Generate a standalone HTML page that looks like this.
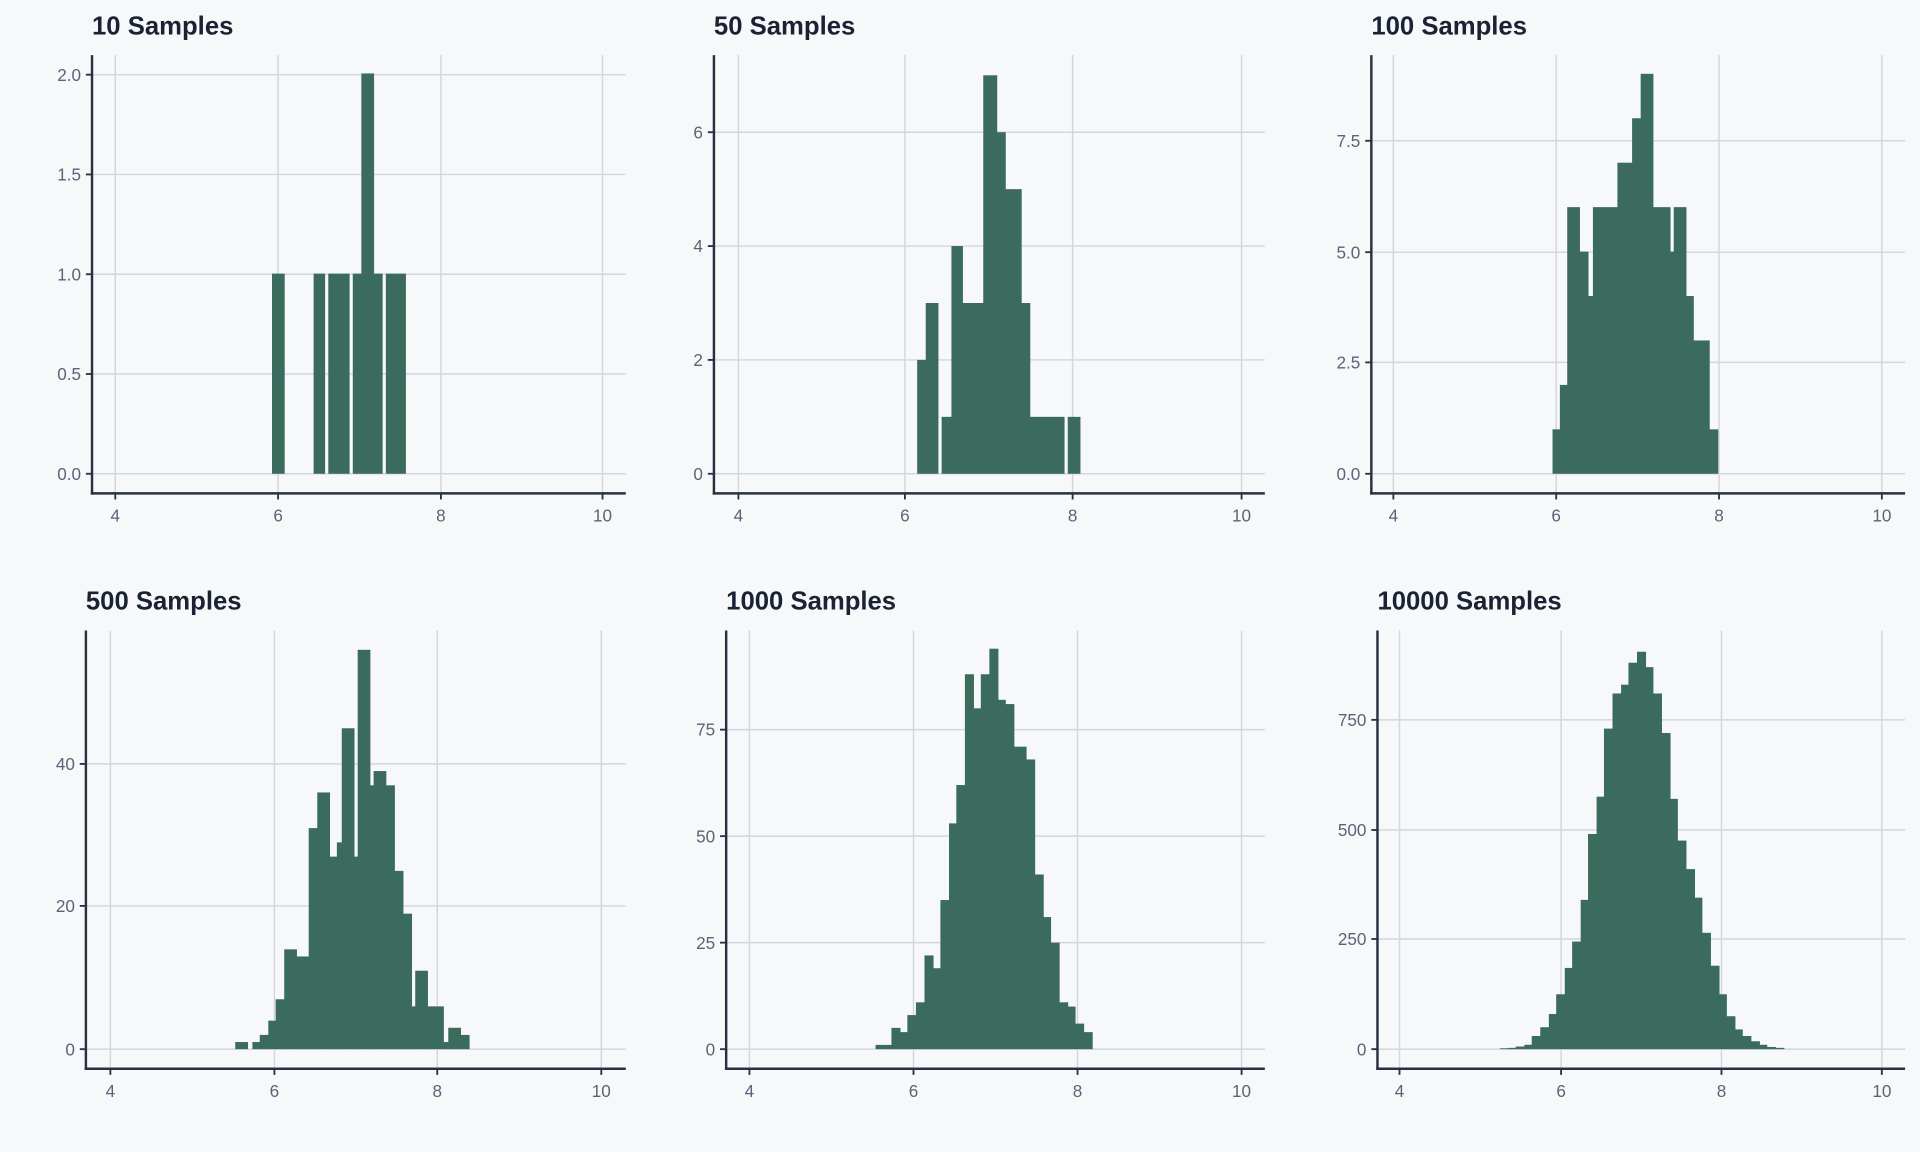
<!DOCTYPE html>
<html><head><meta charset="utf-8"><style>
html,body{margin:0;padding:0;background:#f7f8fa;}
svg{display:block}
text{font-family:"Liberation Sans",sans-serif}
</style></head><body>
<svg id="s" width="1920" height="1152" viewBox="0 0 1568 941" xmlns="http://www.w3.org/2000/svg"></svg>
<script>
const NS="http://www.w3.org/2000/svg";const s=document.getElementById('s');
function el(t,a,txt){const e=document.createElementNS(NS,t);for(const k in a)e.setAttribute(k,a[k]);if(txt!==undefined)e.textContent=txt;s.appendChild(e);return e;}
el('rect',{x:0,y:0,width:1568,height:941,fill:'#f7f8fa'});
const P=[
{t:'10 Samples',L:75,R:511,T:45,B:403,xt:[[94,'4'],[227,'6'],[360,'8'],[492,'10']],yt:[[387,'0.0'],[305.5,'0.5'],[224,'1.0'],[142.5,'1.5'],[61,'2.0']],base:387,u:163.5,
bars:[[222,232,1],[256,265,1],[268,285,1],[288,295,1],[295,305,2],[305,312,1],[315,331,1]]},
{t:'50 Samples',L:583,R:1033,T:45,B:403,xt:[[603,'4'],[739,'6'],[876,'8'],[1014,'10']],yt:[[387,'0'],[294,'2'],[201,'4'],[108,'6']],base:387,u:46.5,
bars:[[749,756,2],[756,766,3],[769,777,1],[777,786,4],[786,803,3],[803,814,7],[814,821,6],[821,834,5],[834,841,3],[841,869,1],[872,882,1]]},
{t:'100 Samples',L:1120,R:1556,T:45,B:403,xt:[[1138,'4'],[1271,'6'],[1404,'8'],[1537,'10']],yt:[[387,'0.0'],[296,'2.5'],[206,'5.0'],[115,'7.5']],base:387,u:36.3,
bars:[[1268,1274,1],[1274,1280,2],[1280,1290,6],[1290,1297,5],[1297,1301,4],[1301,1321,6],[1321,1333,7],[1333,1340,8],[1340,1350,9],[1350,1364,6],[1364,1367,5],[1367,1377,6],[1377,1383,4],[1383,1396,3],[1396,1403,1]]},
{t:'500 Samples',L:70,R:511,T:515,B:873,xt:[[90,'4'],[224,'6'],[357,'8'],[491,'10']],yt:[[857,'0'],[740,'20'],[624,'40']],base:857,u:5.825,
bars:[[192,202,1],[206,212,1],[212,219,2],[219,225,4],[225,232,7],[232,242,14],[242,252,13],[252,259,31],[259,269,36],[269,275,27],[275,279,29],[279,289,45],[289,292,27],[292,302,56],[302,305,37],[305,315,39],[315,322,37],[322,329,25],[329,336,19],[336,339,6],[339,349,11],[349,362,6],[362,366,1],[366,376,3],[376,383,2]]},
{t:'1000 Samples',L:593,R:1033,T:515,B:873,xt:[[612,'4'],[746,'6'],[880,'8'],[1014,'10']],yt:[[857,'0'],[770,'25'],[683,'50'],[596,'75']],base:857,u:3.48,
bars:[[715,728,1],[728,735,5],[735,741,4],[741,748,8],[748,755,11],[755,762,22],[762,768,19],[768,775,35],[775,781,53],[781,788,62],[788,795,88],[795,801,80],[801,808,88],[808,815,94],[815,821,82],[821,828,81],[828,832,71],[832,838,71],[838,845,68],[845,852,41],[852,858,31],[858,865,25],[865,872,11],[872,878,10],[878,885,6],[885,892,4]]},
{t:'10000 Samples',L:1125,R:1556,T:515,B:873,xt:[[1143,'4'],[1275,'6'],[1406,'8'],[1537,'10']],yt:[[857,'0'],[767,'250'],[678,'500'],[588,'750']],base:857,u:0.3587,
bars:[[1225,1232,2],[1232,1238,3],[1238,1245,6],[1245,1251,10],[1251,1258,30],[1258,1265,50],[1265,1271,80],[1271,1278,125],[1278,1284,185],[1284,1291,245],[1291,1297,340],[1297,1304,490],[1304,1310,575],[1310,1317,730],[1317,1324,810],[1324,1330,830],[1330,1337,880],[1337,1344,905],[1344,1350,870],[1350,1357,810],[1357,1364,720],[1364,1370,570],[1370,1377,475],[1377,1384,410],[1384,1390,345],[1390,1397,265],[1397,1404,190],[1404,1410,125],[1410,1417,75],[1417,1423,45],[1423,1430,30],[1430,1437,18],[1437,1443,10],[1443,1450,5],[1450,1457,3]]}
];
for(const p of P){
 for(const [x] of p.xt) el('line',{x1:x,x2:x,y1:p.T,y2:p.B,stroke:'#d3d6de','stroke-width':1.2});
 for(const [y] of p.yt) el('line',{x1:p.L,x2:p.R,y1:y,y2:y,stroke:'#d3d6de','stroke-width':1.2});
 for(const [a,b,h] of p.bars) el('rect',{x:a,y:p.base-h*p.u,width:b-a+0.4,height:h*p.u,fill:'#3b6b5c'});
 el('line',{x1:p.L,x2:p.L,y1:p.T,y2:p.B+1,stroke:'#283142','stroke-width':2});
 el('line',{x1:p.L-1,x2:p.R,y1:p.B,y2:p.B,stroke:'#283142','stroke-width':2});
 for(const [x,l] of p.xt){el('line',{x1:x,x2:x,y1:p.B,y2:p.B+5,stroke:'#283142','stroke-width':1.5});el('text',{x:x,y:p.B+23,'font-size':14,fill:'#5a6478','text-anchor':'middle'},l);}
 for(const [y,l] of p.yt){el('line',{x1:p.L-5,x2:p.L,y1:y,y2:y,stroke:'#283142','stroke-width':1.5});el('text',{x:p.L-9,y:y+5,'font-size':14,fill:'#5a6478','text-anchor':'end'},l);}
 el('text',{x:p.L,y:p.T-17,'font-size':21,'font-weight':'bold',fill:'#1a2233'},p.t);
}
</script>
</body></html>
